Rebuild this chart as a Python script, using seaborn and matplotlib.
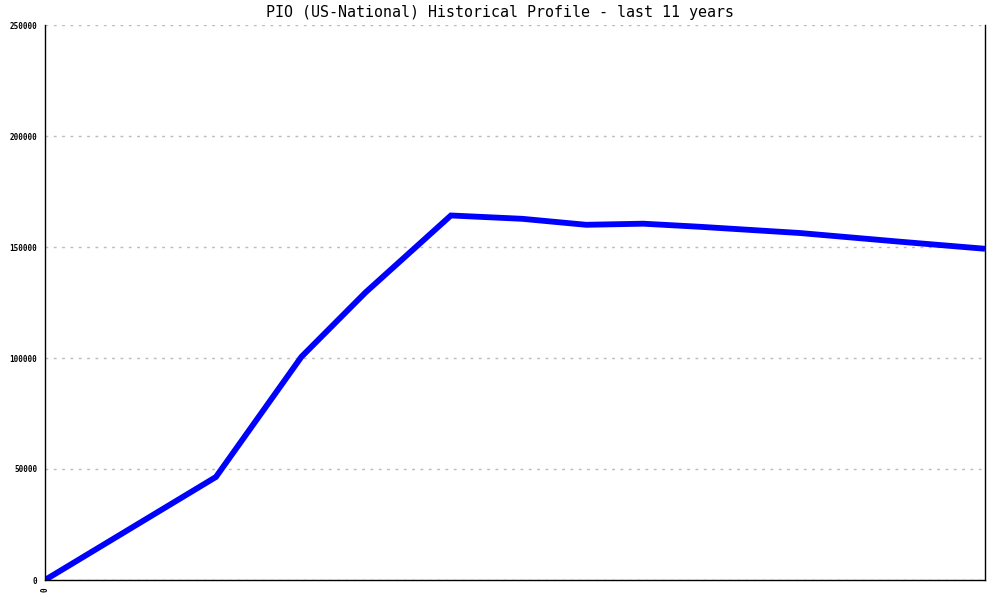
import matplotlib
matplotlib.use("Agg")
import matplotlib.pyplot as plt
import seaborn as sns
import pandas as pd

# Data (x = months since start, y = value)
months = [0, 24, 36, 45, 57, 67, 76, 84, 92, 106, 120, 132]
values = [0, 46400, 100500, 129500, 164200, 162700, 160000, 160500, 159100, 156300, 152400, 149200]
yticks = [0, 50000, 100000, 150000, 200000, 250000]
title = "PIO (US-National) Historical Profile - last 11 years"

df = pd.DataFrame({"month": months, "value": values})

sns.set_style("white")
plt.rcParams["font.family"] = ["DejaVu Sans Mono", "DejaVu Sans"]
plt.rcParams["text.color"] = "black"
plt.rcParams["xtick.color"] = "black"
plt.rcParams["ytick.color"] = "black"

fig = plt.figure(figsize=(10, 6), dpi=100)
ax = fig.add_axes([0.045, 1 - 580 / 600, 0.94, (580 - 25) / 600])

sns.lineplot(data=df, x="month", y="value", ax=ax, color="#0000ff",
             linewidth=4.2, solid_joinstyle="miter", solid_capstyle="butt")

ax.set_xlim(0, 132)
ax.set_ylim(0, 250000)
ax.set_yticks(yticks)
ax.set_yticklabels([str(v) for v in yticks], fontsize=5.5, fontweight="bold", color="black")
ax.set_xticks([0])
ax.set_xticklabels(["0"], rotation=90, fontsize=5.5, fontweight="bold", color="black")
ax.tick_params(axis="both", direction="inout", length=7, width=1, color="black", pad=2)
ax.set_xlabel("")
ax.set_ylabel("")

ax.grid(axis="y", color="#bbbbbb", linestyle=(0, (2, 4)), linewidth=1)
ax.grid(axis="x", visible=False)
ax.set_axisbelow(True)

for side in ["left", "bottom", "right"]:
    ax.spines[side].set_visible(True)
    ax.spines[side].set_color("black")
    ax.spines[side].set_linewidth(1)
ax.spines["top"].set_visible(False)

fig.text(0.5, 1 - 13 / 600, title, ha="center", va="center", fontsize=10.8, color="black")

fig.savefig("out.png", dpi=100, facecolor="white")
